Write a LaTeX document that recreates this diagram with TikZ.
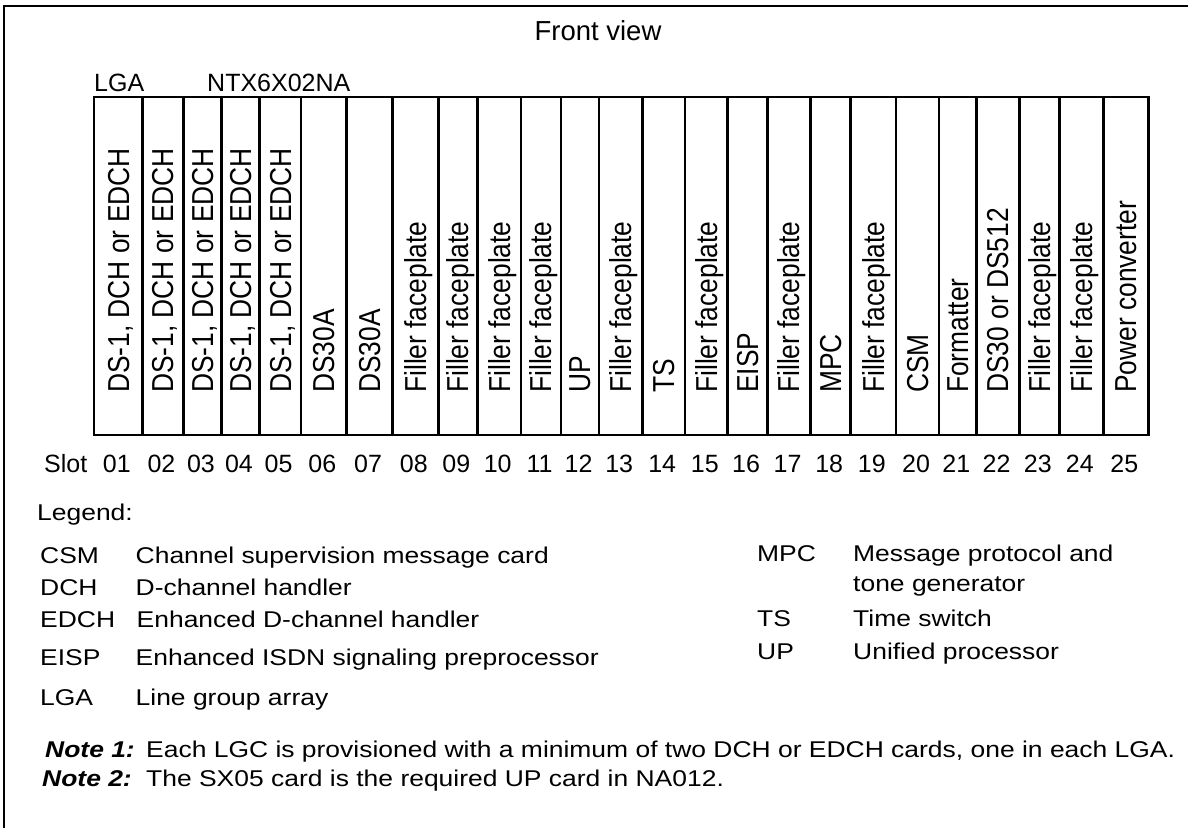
\documentclass[tikz,border=0pt]{standalone}
\usepackage{fontspec}
\setmainfont{Liberation Sans}
\newfontfamily\cardfont[FakeStretch=0.87]{Liberation Sans}
\newfontfamily\legfont[FakeStretch=1.16]{Liberation Sans}
\begin{document}
\begin{tikzpicture}[x=1pt,y=-1pt,
  frameline/.style={line width=1.4pt},
  slotbox/.style={draw, line width=2.6pt, minimum height=338pt, inner sep=0pt, outer sep=0pt},
  cardlbl/.style={rotate=90, anchor=base west, inner sep=0pt, font=\cardfont\fontsize{30.3}{36}\selectfont},
  slotnum/.style={anchor=base, inner sep=0pt, font=\fontsize{25}{30}\selectfont},
  toplbl/.style={anchor=base west, inner sep=0pt, font=\fontsize{25}{30}\selectfont},
  legtxt/.style={anchor=base west, inner sep=0pt, font=\legfont\fontsize{22.8}{27}\selectfont},
  notelbl/.style={anchor=base west, inner sep=0pt, font=\legfont\fontsize{22.8}{27}\selectfont\bfseries\itshape},
]
\useasboundingbox (0,0) rectangle (1188,827);
\draw[frameline] (1195,6) -- (4,6) -- (4,835);

\node[anchor=base, inner sep=0pt, font=\fontsize{27.5}{33}\selectfont] (title) at (598,40) {Front view};
\node[toplbl] (lga) at (94,91.7) {LGA};
\node[toplbl] (ntx) at (207,91.7) {NTX6X02NA};

\foreach \xa/\xb/\lbl/\sn in {
  94/142.7/{DS-1, DCH or EDCH}/01,
  142.7/183.3/{DS-1, DCH or EDCH}/02,
  183.3/221.7/{DS-1, DCH or EDCH}/03,
  221.7/259.3/{DS-1, DCH or EDCH}/04,
  259.3/301/{DS-1, DCH or EDCH}/05,
  301/346.7/{DS30A}/06,
  346.7/392.3/{DS30A}/07,
  392.3/438.3/{Filler faceplate}/08,
  438.3/477.3/{Filler faceplate}/09,
  477.3/521/{Filler faceplate}/10,
  521/561/{Filler faceplate}/11,
  561/599/{UP}/12,
  599/642.3/{Filler faceplate}/13,
  642.3/685/{TS}/14,
  685/727.7/{Filler faceplate}/15,
  727.7/767.3/{EISP}/16,
  767.3/810.7/{Filler faceplate}/17,
  810.7/850.7/{MPC}/18,
  850.7/896/{Filler faceplate}/19,
  896/939/{CSM}/20,
  939/976.7/{Formatter}/21,
  976.7/1019.3/{DS30 or DS512}/22,
  1019.3/1059.3/{Filler faceplate}/23,
  1059.3/1103.3/{Filler faceplate}/24,
  1103.3/1148.3/{Power converter}/25}{
  \node[slotbox, minimum width={(\xb-\xa)*1pt}] (s\sn) at ({(\xa+\xb)/2},266) {};
  \node[cardlbl] (c\sn) at ({(\xa+\xb)/2+10.85},393) {\lbl};
  \node[slotnum] (n\sn) at ({(\xa+\xb)/2-1.5},472.5) {\sn};
}
\node[toplbl] (slot) at (44,472.5) {Slot};

\node[legtxt] (legend) at (37,520.7) {Legend:};
\node[legtxt] (kcsm) at (40,563.3) {CSM};
\node[legtxt] (dcsm) at (135.5,563.3) {Channel supervision message card};
\node[legtxt] (kdch) at (40,595) {DCH};
\node[legtxt] (ddch) at (135.5,595) {D-channel handler};
\node[legtxt] (kedch) at (40,627.7) {EDCH};
\node[legtxt] (dedch) at (136.5,627.7) {Enhanced D-channel handler};
\node[legtxt] (keisp) at (40,665) {EISP};
\node[legtxt] (deisp) at (135.5,665) {Enhanced ISDN signaling preprocessor};
\node[legtxt] (klga) at (40,705) {LGA};
\node[legtxt] (dlga) at (135.5,705) {Line group array};

\node[legtxt] (kmpc) at (757,561) {MPC};
\node[legtxt] (dmpc) at (853,561) {Message protocol and};
\node[legtxt] (dmpc2) at (853,591.7) {tone generator};
\node[legtxt] (kts) at (757,626.7) {TS};
\node[legtxt] (dts) at (853,626.7) {Time switch};
\node[legtxt] (kup) at (757,659) {UP};
\node[legtxt] (dup) at (853,659) {Unified processor};

\node[notelbl] (note1) at (45,757.5) {Note 1:};
\node[legtxt] (note1t) at (146,757.5) {Each LGC is provisioned with a minimum of two DCH or EDCH cards, one in each LGA.};
\node[notelbl] (note2) at (42,786.5) {Note 2:};
\node[legtxt] (note2t) at (146,786.5) {The SX05 card is the required UP card in NA012.};
\end{tikzpicture}
\end{document}
